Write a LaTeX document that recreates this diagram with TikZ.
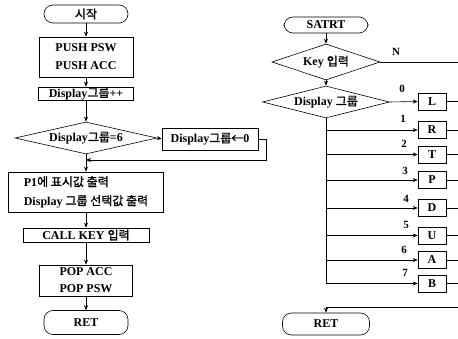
\documentclass[tikz,border=0pt]{standalone}
\usepackage{fontspec}
\setmainfont{Liberation Serif}
\newfontfamily\kr{Noto Sans CJK KR}[AutoFakeBold=1.5]
\usetikzlibrary{shapes.geometric,arrows.meta}
\tikzset{
  txt/.style={font=\fontsize{12}{14}\selectfont\bfseries, align=center},
  box/.style={txt, draw, line width=0.6pt, inner sep=0pt},
  term/.style={box, rounded corners=9pt},
  dia/.style={draw, diamond, inner sep=0pt, line width=0.6pt},
  sbox/.style={box, minimum width=28pt, minimum height=17pt},
  num/.style={font=\fontsize{11}{12}\selectfont\bfseries, inner sep=0pt},
  arr/.style={-{Stealth[length=5pt,width=4pt]}, line width=0.6pt},
  ln/.style={line width=0.6pt}
}
\begin{document}
\begin{tikzpicture}[x=1pt,y=-1pt]
\useasboundingbox (0,0) rectangle (458,339);
% ---------------- left flowchart ----------------
\node[term, minimum width=84pt, minimum height=18pt] (s1) at (86,14) {\kr 시작};
\node[box, minimum width=94pt, minimum height=40pt] (push) at (86,57) {PUSH PSW\\[4pt]PUSH ACC};
\node[box, minimum width=95pt, minimum height=13pt] (inc) at (86,93.5) {Display{\kr 그룹}++};
\node[dia, minimum width=142pt, minimum height=32pt] (d1) at (86,138) {};
\node[txt] (d1t) at (d1) {Display{\kr 그룹}=6};
\node[box, minimum width=96pt, minimum height=22pt] (zero) at (210,139) {Display{\kr 그룹←}0};
\node[box, minimum width=155pt, minimum height=40pt, align=left] (p1) at (86,192) {P1{\kr 에 표시값 출력}\\[5pt]Display {\kr 그룹 선택값 출력}};
\node[box, minimum width=126pt, minimum height=14pt] (call) at (86,235) {CALL KEY {\kr 입력}};
\node[box, minimum width=93pt, minimum height=31pt] (pop) at (86,280.5) {POP ACC\\[3pt]POP PSW};
\node[term, minimum width=84pt, minimum height=24pt] (ret1) at (86,322.5) {RET};
\coordinate (c1) at (266,139);
\coordinate (c2) at (266,160);
\coordinate (j) at (86,160);
\draw[arr] (s1) -- (push);
\draw[arr] (push) -- (inc);
\draw[arr] (inc) -- (d1.north);
\draw[arr] (d1.east) -- (zero.west);
\draw[arr] (zero.east) -- (c1) -- (c2) -- (j);
\draw[arr] (d1.south) -- (p1.north);
\draw[arr] (p1) -- (call);
\draw[arr] (call) -- (pop);
\draw[arr] (pop) -- (ret1);
% ---------------- right flowchart ----------------
\node[term, minimum width=84pt, minimum height=16pt] (s2) at (326,25) {SATRT};
\node[dia, minimum width=108pt, minimum height=36pt] (k) at (326,62) {};
\node[txt] (kt) at (k) {Key {\kr 입력}};
\node[dia, minimum width=127pt, minimum height=32pt] (dg) at (326,102) {};
\node[txt] (dgt) at (dg) {Display {\kr 그룹}};
\node[term, minimum width=87pt, minimum height=22pt] (ret2) at (326,324) {RET};
\node[sbox] (bL) at (432,101.5) {L};
\node[sbox] (bR) at (432,130) {R};
\node[sbox] (bT) at (432,154.5) {T};
\node[sbox] (bP) at (432,180) {P};
\node[sbox] (bD) at (432,208) {D};
\node[sbox] (bU) at (432,235.5) {U};
\node[sbox] (bA) at (432,260) {A};
\node[sbox] (bB) at (432,283.5) {B};
\node[num] (n0) at (402,89) {0};
\node[num] (n1) at (403,119) {1};
\node[num] (n2) at (404,144) {2};
\node[num] (n3) at (405,171) {3};
\node[num] (n4) at (406,199) {4};
\node[num] (n5) at (406,225) {5};
\node[num] (n6) at (404,250) {6};
\node[num] (n7) at (405,273) {7};
\node[num] (nN) at (396,52) {N};
\draw[arr] (s2) -- (k.north);
\draw[arr] (k.south) -- (dg.north);
\draw[arr] (dg.east) -- (bL.west);
\draw[ln] (dg.south) -- (dg.south |- bB.west);
\foreach \b in {bR,bT,bP,bD,bU,bA,bB}{
  \draw[arr] (dg.south |- \b.west) -- (\b.west);
}
\coordinate (e1) at (470,62);
\coordinate (e2) at (470,307);
\coordinate (e3) at (326,307);
\foreach \b in {bL,bR,bT,bP,bD,bU,bA,bB}{
  \draw[ln] (\b.east) -- (\b.east -| e1);
}
\draw[ln] (k.east) -- (e1) -- (e2);
\draw[arr] (e2) -- (e3) -- (ret2.north);
\end{tikzpicture}
\end{document}
